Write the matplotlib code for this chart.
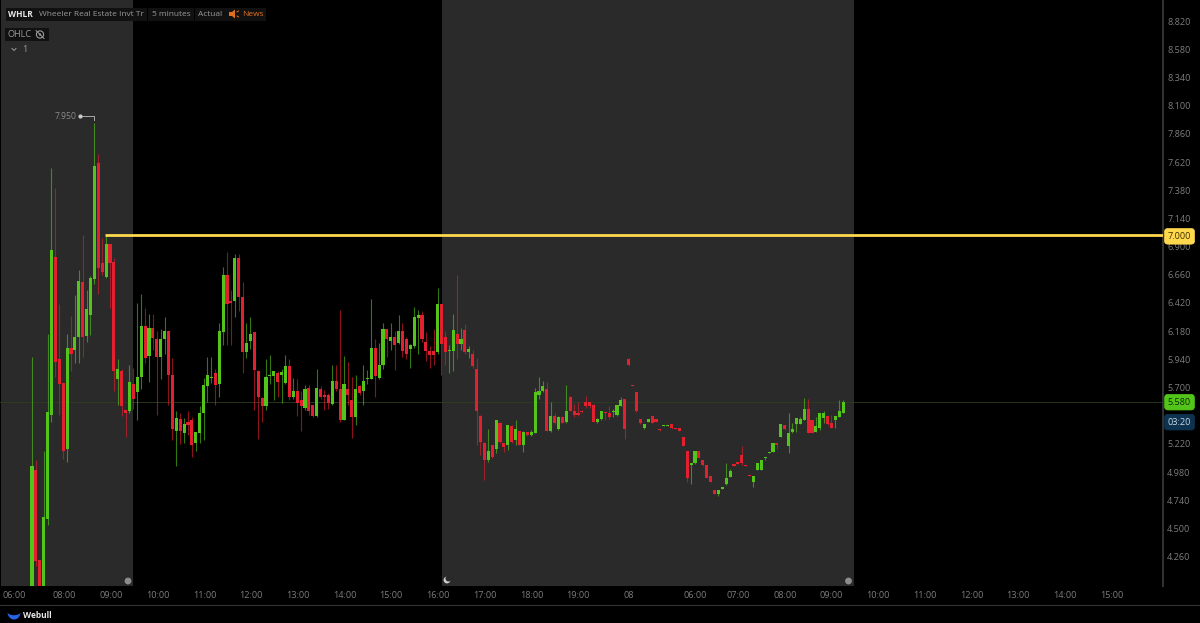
import numpy as np
import matplotlib
matplotlib.use("Agg")
import matplotlib.pyplot as plt
from matplotlib.patches import Circle, Polygon, Rectangle

plt.rcParams['font.family'] = ['Open Sans', 'DejaVu Sans']

# -----------------------
# Candles, 5 minute bars
# -----------------------
highs = [5.96, 5.08, 4.23, 5.16, 6.16, 7.57, 7.40, 6.41, 5.74, 6.16,
         6.31, 6.49, 6.70, 7.00, 6.53, 6.65, 7.95, 7.69, 6.97, 6.99,
         6.92, 6.80, 5.94, 5.86, 5.51, 5.89, 5.87, 6.42, 6.50, 6.38,
         6.33, 6.33, 6.18, 6.20, 6.30, 6.18, 5.95, 5.50, 5.48, 5.44,
         5.50, 5.45, 5.32, 5.54, 5.78, 5.96, 5.96, 5.86, 6.25, 6.73,
         6.85, 6.53, 6.84, 6.84, 6.60, 6.25, 6.30, 6.17, 5.85, 5.62,
         5.94, 5.98, 5.84, 5.84, 5.86, 5.98, 5.94, 5.78, 5.77, 5.67,
         5.72, 5.72, 5.55, 5.86, 5.71, 5.68, 5.65, 5.89, 5.89, 6.36,
         5.97, 5.92, 5.79, 5.81, 5.72, 5.89, 5.85, 6.45, 6.11, 6.08,
         6.25, 6.20, 6.25, 6.18, 6.32, 6.25, 6.13, 6.07, 6.39, 6.36,
         6.35, 6.17, 6.05, 6.20, 6.55, 6.41, 6.18, 6.06, 6.33, 6.66,
         6.21, 6.24, 6.05, 6.02, 5.95, 5.47, 5.24, 5.35, 5.21, 5.42,
         5.41, 5.23, 5.38, 5.38, 5.42, 5.33, 5.33, 5.32, 5.34, 5.70,
         5.79, 5.76, 5.75, 5.58, 5.48, 5.46, 5.46, 5.72, 5.63, 5.56,
         5.58, 5.51, 5.63, 5.58, 5.56, 5.44, 5.50, 5.50, 5.54, 5.52,
         5.55, 5.62, 5.60, 5.95, 5.72, 5.66, 5.43, 5.39, 5.43, 5.46,
         5.43, 5.35, 5.38, 5.38, 5.39, 5.36, 5.36, 5.28, 5.16, 5.06,
         5.16, 5.16, 5.08, 5.04, 4.95, 4.83, 4.83, 4.85, 5.06, 5.01,
         5.05, 5.07, 5.20, 5.04, 4.96, 4.95, 5.06, 5.08, 5.11, 5.15,
         5.23, 5.23, 5.39, 5.38, 5.48, 5.40, 5.44, 5.45, 5.61, 5.60,
         5.42, 5.45, 5.48, 5.50, 5.46, 5.47, 5.46, 5.59, 5.59]

tops = [5.03, 5.00, 4.23, 4.60, 5.49, 6.87, 6.81, 5.94, 5.74, 6.04,
        6.04, 6.13, 6.61, 6.60, 6.37, 6.63, 7.59, 7.61, 6.76, 6.92,
        6.92, 6.77, 5.86, 5.84, 5.51, 5.75, 5.73, 5.79, 6.22, 6.22,
        6.21, 6.21, 6.11, 6.11, 6.18, 6.18, 5.81, 5.44, 5.43, 5.39,
        5.41, 5.42, 5.32, 5.48, 5.72, 5.81, 5.79, 5.82, 6.18, 6.66,
        6.66, 6.44, 6.80, 6.80, 6.47, 6.08, 6.16, 6.17, 5.84, 5.61,
        5.79, 5.81, 5.84, 5.82, 5.83, 5.88, 5.88, 5.67, 5.67, 5.59,
        5.69, 5.70, 5.55, 5.70, 5.69, 5.64, 5.64, 5.76, 5.76, 5.69,
        5.73, 5.69, 5.59, 5.69, 5.71, 5.76, 5.78, 6.04, 6.04, 5.89,
        6.20, 6.20, 6.13, 6.13, 6.18, 6.18, 6.11, 6.06, 6.30, 6.32,
        6.32, 6.09, 6.01, 6.01, 6.41, 6.41, 6.13, 6.02, 6.19, 6.16,
        6.11, 6.19, 6.03, 5.99, 5.86, 5.46, 5.23, 5.16, 5.21, 5.42,
        5.40, 5.23, 5.38, 5.37, 5.35, 5.33, 5.32, 5.32, 5.32, 5.66,
        5.67, 5.71, 5.69, 5.46, 5.46, 5.45, 5.45, 5.50, 5.62, 5.50,
        5.48, 5.50, 5.58, 5.58, 5.55, 5.43, 5.50, 5.49, 5.48, 5.50,
        5.55, 5.59, 5.60, 5.94, 5.72, 5.66, 5.43, 5.39, 5.43, 5.46,
        5.43, 5.35, 5.38, 5.38, 5.39, 5.36, 5.36, 5.28, 5.16, 5.06,
        5.16, 5.16, 5.08, 5.04, 4.95, 4.83, 4.83, 4.85, 4.93, 4.99,
        5.05, 5.07, 5.13, 5.04, 4.96, 4.95, 5.06, 5.08, 5.11, 5.15,
        5.23, 5.23, 5.39, 5.38, 5.31, 5.35, 5.44, 5.43, 5.52, 5.52,
        5.42, 5.37, 5.48, 5.48, 5.46, 5.40, 5.46, 5.50, 5.58]

bottoms = [3.90, 4.22, 3.90, 3.90, 4.58, 5.47, 5.92, 5.73, 5.16, 5.18,
           5.99, 6.02, 6.13, 6.13, 6.14, 6.32, 6.62, 6.72, 6.68, 6.64,
           6.76, 5.84, 5.77, 5.54, 5.48, 5.50, 5.60, 5.66, 5.79, 5.95,
           5.97, 6.12, 5.96, 5.96, 6.11, 5.81, 5.35, 5.33, 5.33, 5.31,
           5.38, 5.21, 5.23, 5.31, 5.48, 5.71, 5.78, 5.72, 5.73, 6.17,
           6.41, 6.42, 6.44, 6.47, 6.00, 6.00, 6.10, 5.85, 5.62, 5.54,
           5.54, 5.80, 5.80, 5.75, 5.81, 5.74, 5.62, 5.62, 5.57, 5.54,
           5.53, 5.50, 5.46, 5.46, 5.62, 5.62, 5.57, 5.56, 5.69, 5.42,
           5.42, 5.64, 5.45, 5.45, 5.65, 5.67, 5.77, 5.77, 5.80, 5.78,
           5.89, 6.11, 6.10, 6.06, 6.08, 6.01, 5.99, 6.03, 6.05, 6.29,
           6.11, 6.01, 5.98, 5.98, 6.00, 6.07, 6.00, 6.01, 6.01, 6.07,
           6.07, 6.00, 6.00, 5.88, 5.50, 5.24, 5.08, 5.08, 5.11, 5.18,
           5.24, 5.19, 5.21, 5.24, 5.25, 5.21, 5.21, 5.30, 5.30, 5.31,
           5.64, 5.67, 5.33, 5.33, 5.40, 5.35, 5.40, 5.41, 5.50, 5.47,
           5.47, 5.49, 5.54, 5.54, 5.41, 5.41, 5.43, 5.48, 5.45, 5.49,
           5.47, 5.54, 5.35, 5.89, 5.71, 5.50, 5.40, 5.36, 5.41, 5.40,
           5.41, 5.34, 5.37, 5.37, 5.36, 5.35, 5.33, 5.20, 4.93, 5.04,
           5.06, 5.10, 5.04, 4.93, 4.90, 4.79, 4.79, 4.84, 4.88, 4.94,
           5.03, 5.05, 5.06, 5.03, 4.95, 4.90, 5.00, 5.00, 5.10, 5.14,
           5.15, 5.21, 5.28, 5.35, 5.20, 5.32, 5.39, 5.39, 5.42, 5.31,
           5.31, 5.32, 5.36, 5.44, 5.39, 5.36, 5.42, 5.45, 5.48]

lows = [3.90, 4.18, 3.90, 3.90, 4.53, 5.41, 5.79, 5.47, 5.09, 5.07,
        5.84, 5.91, 5.91, 5.96, 6.09, 6.15, 6.58, 6.50, 6.66, 6.63,
        6.38, 5.67, 5.55, 5.46, 5.28, 5.48, 5.52, 5.42, 5.69, 5.91,
        5.75, 6.02, 5.47, 5.77, 5.99, 5.55, 5.25, 5.03, 5.22, 5.23,
        5.30, 5.11, 5.16, 5.23, 5.25, 5.58, 5.74, 5.55, 5.62, 6.06,
        6.06, 6.06, 6.30, 6.35, 5.82, 5.95, 6.03, 5.51, 5.26, 5.41,
        5.51, 5.73, 5.59, 5.62, 5.57, 5.73, 5.59, 5.60, 5.46, 5.33,
        5.51, 5.47, 5.45, 5.45, 5.60, 5.51, 5.52, 5.55, 5.67, 5.41,
        5.42, 5.55, 5.27, 5.38, 5.64, 5.55, 5.73, 5.77, 5.62, 5.77,
        5.86, 5.96, 6.02, 5.85, 6.07, 5.96, 5.94, 5.87, 6.04, 5.99,
        6.09, 5.93, 5.87, 5.89, 5.99, 5.81, 5.89, 5.82, 5.84, 5.94,
        6.02, 5.99, 5.95, 5.87, 5.21, 5.13, 4.91, 5.07, 5.10, 5.14,
        5.23, 5.15, 5.17, 5.23, 5.21, 5.21, 5.15, 5.29, 5.29, 5.31,
        5.60, 5.66, 5.33, 5.32, 5.39, 5.34, 5.40, 5.40, 5.50, 5.45,
        5.46, 5.48, 5.53, 5.53, 5.41, 5.40, 5.42, 5.42, 5.43, 5.45,
        5.46, 5.54, 5.26, 5.88, 5.71, 5.49, 5.39, 5.35, 5.41, 5.40,
        5.41, 5.33, 5.37, 5.37, 5.35, 5.35, 5.33, 5.20, 4.90, 4.88,
        5.05, 5.10, 5.03, 4.93, 4.90, 4.79, 4.78, 4.84, 4.87, 4.94,
        5.03, 5.05, 5.04, 5.03, 4.95, 4.85, 5.00, 5.00, 5.08, 5.14,
        5.15, 5.18, 5.28, 5.34, 5.14, 5.31, 5.32, 5.39, 5.42, 5.31,
        5.31, 5.32, 5.34, 5.40, 5.38, 5.36, 5.36, 5.45, 5.48]

# bars that closed up, everything else is red
up_bars = [0, 3, 4, 5, 9, 11, 12, 14, 15, 16, 19, 22, 25, 27, 28, 30, 33, 34, 37,
           39, 42, 43, 44, 45, 46, 48, 49, 52, 55, 56, 60, 61, 62, 64, 65, 67, 70,
           73, 77, 80, 83, 85, 86, 87, 89, 90, 92, 94, 97, 98, 99, 104, 107, 108,
           110, 112, 117, 119, 122, 124, 126, 128, 129, 130, 131, 133, 135, 137,
           145, 146, 149, 150, 151, 157, 158, 162, 163, 169, 170, 176, 177, 178,
           179, 185, 186, 187, 188, 189, 190, 192, 194, 195, 196, 197, 198, 201,
           202, 203, 206, 207, 208]

# -----------------------
# Axis labels
# -----------------------
# 5.460 sits under the last price tags and cannot be read, so it is left out
price_ticks = [4.26, 4.50, 4.74, 4.98, 5.22, 5.70, 5.94, 6.18, 6.42,
               6.66, 6.90, 7.14, 7.38, 7.62, 7.86, 8.10, 8.34, 8.58, 8.82]
time_pos = [-4.6, 8.2, 20.3, 32.3, 44.4, 56.2, 68.2, 80.3, 92, 104.1, 116.2,
            128.2, 140, 153, 170, 181, 193, 204.9, 217, 229, 241, 252.8,
            264.9, 276.9]
time_labels = ["06:00", "08:00", "09:00", "10:00", "11:00", "12:00", "13:00",
               "14:00", "15:00", "16:00", "17:00", "18:00", "19:00", "08",
               "06:00", "07:00", "08:00", "09:00", "10:00", "11:00", "12:00",
               "13:00", "14:00", "15:00"]

alert_price = 7.0
last_price = 5.58
peak_price = 7.95
peak_bar = 16
countdown = "03:20"

# extended hours shading, in bars
sessions = [(-7.9, 26.0), (105.1, 210.8)]

# -----------------------
# Colours
# -----------------------
BG = "#000000"
SHADE = "#2a2a2a"
UP = "#52c41a"
DOWN = "#e3202f"
MUTED = "#7d7d7d"
LINE = "#333333"
YELLOW = "#ffd84d"

# -----------------------
# Figure
# -----------------------
W, H = 1200, 623
fig = plt.figure(figsize=(W / 100, H / 100), dpi=100, facecolor=BG)
ax = fig.add_axes([0, 1 - 586 / H, 1163 / W, 586 / H], facecolor=BG)

n = len(highs)
assert n == len(lows) == len(tops) == len(bottoms)
idx = np.arange(n)
colors = np.where(np.isin(idx, up_bars), UP, DOWN)

for a, b in sessions:
    ax.axvspan(a, b, color=SHADE, lw=0, zorder=0)

ax.axhline(last_price, color="#2c3f20", lw=0.6, zorder=1)

ax.vlines(idx, lows, highs, colors=colors, lw=0.8, alpha=0.62, zorder=2)
ax.bar(idx, np.array(tops) - np.array(bottoms), bottom=bottoms, width=0.8,
       color=colors, lw=0, zorder=3)

ax.hlines(alert_price, 18.7, 290, color=YELLOW, lw=2.0, zorder=4)

# peak marker
ax.plot([peak_bar - 3.6, peak_bar, peak_bar],
        [peak_price + 0.06, peak_price + 0.06, peak_price + 0.025],
        color="#aaaaaa", lw=0.7, zorder=4)
ax.plot([peak_bar - 3.6], [peak_price + 0.06], "o", ms=2, color="#cccccc", zorder=4)
ax.annotate(f"{peak_price:.3f}", xy=(peak_bar - 3.6, peak_price + 0.06),
            xytext=(-3, 0), textcoords="offset points", ha="right", va="center",
            color="#8a8a8a", fontsize=6.2)

ax.set_xlim(-8.2, 290)
ax.set_ylim(4.011, 8.999)

ax.yaxis.tick_right()
ax.set_yticks(price_ticks, [f"{p:.3f}" for p in price_ticks])
ax.set_xticks(time_pos, time_labels)
ax.tick_params(axis="both", length=0, labelsize=6.6, labelcolor=MUTED)
ax.tick_params(axis="y", pad=3)
ax.tick_params(axis="x", pad=3.5)
for s in ["top", "left", "bottom"]:
    ax.spines[s].set_visible(False)
ax.spines["right"].set_color(LINE)
ax.spines["right"].set_linewidth(1.4)

# price tags over the axis, shift in pixels
tags = [(alert_price, f"{alert_price:.3f}", YELLOW, "#3a2e00", -1.5),
        (last_price, f"{last_price:.3f}", UP, "#0f2a05", -0.5),
        (last_price, countdown, "#0d3350", "#c8d8e4", -20.5)]
for price, label, face, ink, shift in tags:
    ax.annotate(label, xy=(1.0, price), xycoords=("axes fraction", "data"),
                xytext=(1179.5 - 1163, shift), textcoords="offset pixels",
                ha="center", va="center", fontsize=6.6, color=ink, zorder=10,
                annotation_clip=False,
                bbox=dict(boxstyle="round,pad=0.36", fc=face, ec=face, lw=0.5))

# -----------------------
# Screen chrome, in pixels
# -----------------------
ui = fig.add_axes([0, 0, 1, 1], facecolor="none")
ui.set_xlim(0, W)
ui.set_ylim(H, 0)
ui.axis("off")

ui.plot([0, W], [605, 605], color=LINE, lw=0.8)

for x0, y0, w, h in [(6, 8, 141, 13), (148, 8, 46, 13), (195, 8, 31, 13),
                     (226, 8, 40, 13), (5, 28, 44, 13)]:
    ui.add_patch(Rectangle((x0, y0), w, h, fc="#111111", ec="none"))

ui.text(8, 14.5, "WHLR", color="#e8e8e8", fontsize=6.0, fontweight="bold", va="center")
ui.text(39, 14.5, "Wheeler Real Estate Invt Tr", color="#9a9a9a", fontsize=6.0, va="center")
ui.text(152, 14.5, "5 minutes", color="#9a9a9a", fontsize=6.0, va="center")
ui.text(198, 14.5, "Actual", color="#9a9a9a", fontsize=6.0, va="center")
ui.text(242, 14.5, "News", color="#e0701e", fontsize=6.0, va="center")
ui.add_patch(Polygon([(229, 12), (232, 12), (235, 9.5), (235, 18.5), (232, 16), (229, 16)],
                     fc="#e0701e", ec="none"))
ui.plot([237, 238.5], [12, 11], color="#e0701e", lw=0.7)
ui.plot([237, 238.5], [16, 17], color="#e0701e", lw=0.7)

ui.text(8, 34.5, "OHLC", color="#9a9a9a", fontsize=6.6, va="center")
ui.add_patch(Circle((40, 34.5), 3.6, fc="none", ec="#9a9a9a", lw=0.8))
ui.add_patch(Circle((40, 34.5), 1.2, fc="#9a9a9a", ec="none"))
ui.plot([36, 44], [30.5, 38.5], color="#9a9a9a", lw=0.7)

ui.plot([12, 14, 16], [48.5, 50.5, 48.5], color="#9a9a9a", lw=0.7)
ui.text(22, 50, "1", color="#9a9a9a", fontsize=6.6, va="center")

# session markers
ui.add_patch(Circle((128, 581), 3.4, fc="#8c8c8c", ec="none"))
ui.add_patch(Circle((848.5, 581), 3.4, fc="#8c8c8c", ec="none"))
ui.add_patch(Circle((447, 580), 3.4, fc="#cfcfcf", ec="none"))
ui.add_patch(Circle((448.5, 578.5), 3.0, fc=SHADE, ec="none"))

# logo
t = np.linspace(0, np.pi, 40)
outer = np.c_[14 + 6.5 * np.cos(t), 612 + 7.5 * np.sin(t)]
inner = np.c_[14 + 6.5 * np.cos(t[::-1]), 612 + 3.2 * np.sin(t[::-1])]
ui.add_patch(Polygon(np.r_[outer, inner], fc="#2563e8", ec="none"))
ui.text(23, 615, "Webull", color="#e8e8e8", fontsize=6.0, fontweight="bold", va="center")

fig.savefig("out.png", dpi=100, facecolor=BG)
